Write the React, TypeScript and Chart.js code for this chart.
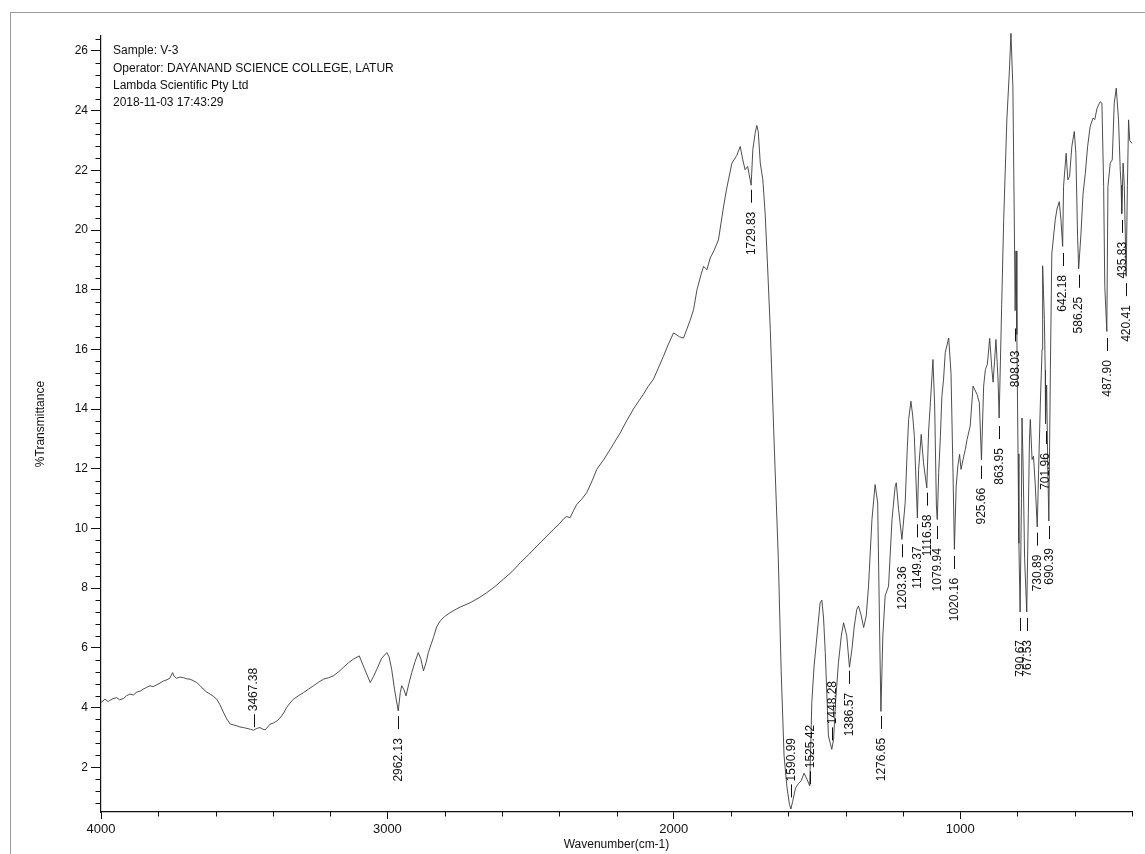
import React, { useEffect, useRef } from 'react';
import { Chart, registerables } from 'chart.js';

Chart.register(...registerables);

// ---- Spectrum data (wavenumber in cm-1, %Transmittance) ----
const wavenumbers = [
  4000, 3986, 3975, 3969, 3958, 3945, 3935, 3922, 3910, 3899, 3887, 3875, 3863, 3852, 3840, 3829, 3818, 3806, 3794, 3782,
  3770, 3760, 3750, 3745, 3736, 3725, 3712, 3700, 3689, 3678, 3666, 3655, 3643, 3631, 3619, 3608, 3596, 3585, 3573, 3561,
  3549, 3538, 3526, 3515, 3503, 3490, 3478, 3467.38, 3456, 3445, 3436, 3427, 3418, 3410, 3398, 3386, 3378, 3369, 3360, 3352,
  3340, 3328, 3310, 3293, 3275, 3258, 3240, 3223, 3205, 3189, 3170, 3154, 3136, 3119, 3098, 3080, 3060, 3048, 3037, 3020,
  3002, 2994, 2985, 2975, 2962.13, 2955, 2950, 2942, 2935, 2925, 2915, 2903, 2892, 2883, 2874, 2865, 2857, 2848, 2839, 2828,
  2816, 2800, 2781, 2750, 2711, 2680, 2653, 2625, 2595, 2565, 2536, 2507, 2478, 2450, 2420, 2400, 2385, 2375, 2362, 2350,
  2339, 2320, 2304, 2285, 2269, 2245, 2222, 2205, 2187, 2165, 2141, 2120, 2106, 2090, 2071, 2055, 2036, 2020, 2001, 1992,
  1980, 1966, 1955, 1943, 1931, 1919, 1905, 1896, 1884, 1873, 1860, 1844, 1826, 1815, 1797, 1780, 1768, 1759, 1751, 1742,
  1729.83, 1724, 1716, 1710, 1705, 1698, 1689, 1681, 1673, 1663, 1650, 1635, 1625, 1615, 1605, 1596, 1590.99, 1585, 1575, 1565,
  1555, 1545, 1535, 1525.42, 1518, 1510, 1500, 1489, 1483, 1477, 1471, 1460, 1448.28, 1442, 1435, 1425, 1415, 1407, 1396, 1386.57,
  1378, 1370, 1361, 1355, 1346, 1337, 1328, 1320, 1308, 1297, 1288, 1281, 1276.65, 1270, 1262, 1250, 1238, 1227, 1223, 1215,
  1203.36, 1192, 1185, 1180, 1172, 1166, 1160, 1149.37, 1145, 1136, 1128, 1116.58, 1110, 1104, 1095, 1089, 1083, 1079.94, 1075, 1069,
  1064, 1058, 1052, 1040, 1032, 1025, 1020.16, 1014, 1008, 1002, 997, 990, 982, 976, 965, 955, 941, 933, 925.66, 918,
  912, 905, 897, 889, 885, 880, 875, 868, 863.95, 855, 848, 837, 828, 822.7, 816, 811, 808.03, 805, 802, 798,
  795, 790.67, 786, 784, 780, 775, 767.53, 762, 758, 755, 749, 744, 738, 730.89, 726, 720, 714, 712, 706, 703,
  701.96, 698, 694, 690.39, 685, 680, 668, 662, 654, 648, 642.18, 639, 630, 624, 618, 610, 601.5, 596, 590, 586.25,
  578, 571, 563, 555, 546, 536, 530, 522, 511, 505, 499, 495, 487.9, 484, 476, 469, 462, 455, 447, 441,
  438, 435.83, 431, 427, 420.41, 416, 412, 408, 400,
];

const transmittance = [
  4.17, 4.28, 4.2, 4.24, 4.3, 4.33, 4.26, 4.3, 4.4, 4.45, 4.42, 4.52, 4.55, 4.62, 4.68, 4.73, 4.7, 4.76, 4.82, 4.89,
  4.93, 4.98, 5.17, 5.05, 4.98, 5.02, 5.0, 4.96, 4.95, 4.9, 4.84, 4.74, 4.62, 4.52, 4.45, 4.38, 4.28, 4.1, 3.85, 3.62,
  3.45, 3.42, 3.39, 3.35, 3.33, 3.3, 3.27, 3.24, 3.3, 3.33, 3.28, 3.25, 3.35, 3.44, 3.48, 3.55, 3.62, 3.72, 3.85, 4.0,
  4.15, 4.28, 4.4, 4.5, 4.62, 4.73, 4.85, 4.95, 5.0, 5.06, 5.2, 5.34, 5.5, 5.62, 5.73, 5.3, 4.84, 5.05, 5.28, 5.65,
  5.84, 5.7, 5.28, 4.6, 3.89, 4.5, 4.73, 4.6, 4.39, 4.8, 5.17, 5.55, 5.84, 5.62, 5.23, 5.5, 5.84, 6.1, 6.35, 6.7,
  6.9, 7.05, 7.18, 7.35, 7.51, 7.68, 7.85, 8.05, 8.3, 8.55, 8.85, 9.12, 9.41, 9.68, 9.97, 10.15, 10.32, 10.4, 10.36, 10.6,
  10.8, 11.0, 11.2, 11.6, 11.98, 12.3, 12.65, 12.92, 13.2, 13.6, 14.0, 14.3, 14.5, 14.75, 15.0, 15.35, 15.77, 16.15, 16.55, 16.5,
  16.42, 16.38, 16.66, 16.97, 17.33, 18.0, 18.5, 18.78, 18.67, 19.06, 19.3, 19.67, 20.8, 21.4, 22.24, 22.5, 22.8, 22.35, 22.02, 22.13,
  21.5, 22.69, 23.24, 23.5, 23.3, 22.24, 21.68, 20.57, 18.9, 16.66, 13.0, 9.0, 5.2, 2.4, 1.35, 0.75, 0.6, 0.85, 1.3, 1.45,
  1.55, 1.8, 1.6, 1.38, 4.17, 5.4, 6.4, 7.51, 7.6, 7.0, 5.84, 3.05, 2.6, 2.94, 4.2, 5.5, 6.4, 6.84, 6.4, 5.35,
  5.95, 6.7, 7.29, 7.4, 7.1, 6.68, 7.07, 8.07, 10.3, 11.47, 10.86, 6.4, 3.87, 6.4, 7.74, 8.07, 10.3, 11.42, 11.53, 10.64,
  9.63, 10.86, 12.6, 13.65, 14.26, 13.8, 13.09, 10.35, 11.98, 13.15, 12.2, 11.36, 13.3, 14.21, 15.66, 14.1, 10.75, 10.3, 11.87, 13.09,
  14.4, 15.0, 15.9, 16.38, 15.2, 11.87, 9.3, 11.42, 12.1, 12.48, 11.98, 12.3, 12.65, 12.98, 13.43, 14.77, 14.49, 14.21, 12.3, 14.77,
  15.32, 15.5, 16.37, 15.3, 14.9, 15.6, 16.33, 15.04, 13.7, 17.5, 20.34, 23.69, 25.36, 26.59, 24.8, 20.34, 17.3, 19.3, 16.5, 12.5,
  9.5, 7.2, 11.0, 13.7, 12.0, 9.0, 7.2, 10.5, 13.0, 13.65, 12.31, 12.42, 11.5, 10.05, 11.98, 14.2, 16.0, 18.8, 17.0, 15.3,
  13.5, 14.8, 12.0, 10.25, 15.32, 19.2, 20.34, 20.7, 20.95, 20.34, 19.45, 21.46, 22.57, 21.68, 21.8, 22.8, 23.3, 22.57, 19.78, 18.7,
  19.9, 21.2, 21.9, 22.8, 23.47, 23.75, 23.7, 24.08, 24.3, 24.25, 21.46, 18.11, 16.6, 21.46, 22.24, 22.35, 24.25, 24.75, 23.69, 22.0,
  21.5, 20.55, 22.24, 21.5, 18.45, 21.5, 23.69, 23.0, 22.9,
];

// ---- Peak annotations ----
const peakWavenumbers = [
  3467.38, 2962.13, 1729.83, 1590.99, 1525.42, 1448.28, 1386.57, 1276.65, 1203.36, 1149.37, 1116.58, 1079.94, 1020.16,
  925.66, 863.95, 808.03, 790.67, 767.53, 730.89, 701.96, 690.39, 642.18, 586.25, 487.9, 435.83, 420.41,
];
// transmittance where each marker dash begins
const peakAnchors = [
  3.34, 3.71, 21.35, 0.99, 1.43, 2.9, 5.23, 3.72, 9.47, 10.14, 11.2, 10.08, 9.08,
  12.1, 13.43, 16.7, 7.0, 7.0, 9.86, 13.26, 10.08, 19.23, 18.5, 16.38, 20.34, 18.22,
];
const peakSides = [
  'above', 'below', 'below', 'above', 'above', 'above', 'below', 'below', 'below', 'below', 'below', 'below', 'below',
  'below', 'below', 'below', 'below', 'below', 'below', 'below', 'below', 'below', 'below', 'below', 'below', 'below',
];
const peakLabels = peakWavenumbers.map((w) => w.toFixed(2));

// ---- Axes ----
const xMin = 400;
const xMax = 4000;
const xMinorStep = 200;
const xMajorValues = [4000, 3000, 2000, 1000];
const xTickLabels = ['4000', '3000', '2000', '1000'];
const yMin = 0.5;
const yMax = 26.5;
const yMinorStep = 0.4;
const yMajorValues = [2, 4, 6, 8, 10, 12, 14, 16, 18, 20, 22, 24, 26];
const yTickLabels = ['2', '4', '6', '8', '10', '12', '14', '16', '18', '20', '22', '24', '26'];

const xTitle = 'Wavenumber(cm-1)';
const yTitle = '%Transmittance';
const infoLines = [
  'Sample: V-3',
  'Operator: DAYANAND SCIENCE COLLEGE, LATUR',
  'Lambda Scientific Pty Ltd',
  '2018-11-03 17:43:29',
];

const FONT = '"Liberation Sans", Arial, Helvetica, sans-serif';

const buildTicks = (min: number, max: number, step: number) => {
  const out: number[] = [];
  const n = Math.round((max - min) / step);
  for (let k = 0; k <= n; k++) out.push(Math.round((min + k * step) * 1000) / 1000);
  return out;
};
const xTickValues = buildTicks(xMin, xMax, xMinorStep);
const yTickValues = buildTicks(0.8, 26.4, yMinorStep);

const majorIndex = (arr: number[], v: number) => arr.findIndex((m) => Math.abs(m - v) < 1e-6);

const minorTicksPlugin = {
  id: 'minorTicks',
  afterDraw(chart: any) {
    const { ctx, chartArea, scales } = chart;
    ctx.save();
    ctx.strokeStyle = '#111';
    ctx.lineWidth = 1;
    ctx.beginPath();
    yTickValues.forEach((v) => {
      if (majorIndex(yMajorValues, v) >= 0) return;
      const py = Math.round(scales.y.getPixelForValue(v)) + 0.5;
      ctx.moveTo(chartArea.left - 5.5, py);
      ctx.lineTo(chartArea.left, py);
    });
    xTickValues.forEach((v) => {
      if (majorIndex(xMajorValues, v) >= 0) return;
      const px = Math.round(scales.x.getPixelForValue(v)) + 0.5;
      ctx.moveTo(px, chartArea.bottom);
      ctx.lineTo(px, chartArea.bottom + 4.5);
    });
    ctx.stroke();
    ctx.restore();
  },
};

const annotationPlugin = {
  id: 'peakAnnotations',
  afterDatasetsDraw(chart: any) {
    const { ctx, chartArea, scales } = chart;
    ctx.save();
    ctx.fillStyle = '#111';
    ctx.strokeStyle = '#111';
    ctx.lineWidth = 1;
    ctx.font = `12px ${FONT}`;
    peakWavenumbers.forEach((w, i) => {
      const px = scales.x.getPixelForValue(w);
      const py = scales.y.getPixelForValue(peakAnchors[i]);
      const dir = peakSides[i] === 'above' ? -1 : 1;
      const dashLen = 13;
      ctx.beginPath();
      ctx.moveTo(Math.round(px) + 0.5, py);
      ctx.lineTo(Math.round(px) + 0.5, py + dir * dashLen);
      ctx.stroke();
      ctx.save();
      const gap = dir > 0 ? 9 : 3;
      ctx.translate(px + 0.5, py + dir * (dashLen + gap));
      ctx.rotate(-Math.PI / 2);
      ctx.textAlign = dir > 0 ? 'right' : 'left';
      ctx.textBaseline = 'middle';
      ctx.fillText(peakLabels[i], 0, 0);
      ctx.restore();
    });
    // header information
    ctx.textAlign = 'left';
    ctx.textBaseline = 'middle';
    infoLines.forEach((line, i) => {
      ctx.fillText(line, chartArea.left + 12, chartArea.top + 15 + i * 17.3);
    });
    ctx.restore();
  },
};

export default function App() {
  const canvasRef = useRef<HTMLCanvasElement | null>(null);

  useEffect(() => {
    if (!canvasRef.current) return;
    Chart.defaults.font.family = FONT;
    const chart = new Chart(canvasRef.current, {
      type: 'line',
      data: {
        datasets: [
          {
            label: 'V-3',
            data: wavenumbers.map((w, i) => ({ x: w, y: transmittance[i] })),
            borderColor: '#3a3a3a',
            borderWidth: 0.9,
            pointRadius: 0,
            fill: false,
            tension: 0,
            clip: 10,
          },
        ],
      },
      options: {
        responsive: false,
        animation: false,
        events: [],
        layout: { padding: { left: 0, right: 13, top: 36, bottom: 0 } },
        plugins: { legend: { display: false }, tooltip: { enabled: false } },
        scales: {
          x: {
            type: 'linear',
            reverse: true,
            min: xMin,
            max: xMax,
            afterBuildTicks: (scale: any) => {
              scale.ticks = xTickValues.map((v) => ({ value: v }));
            },
            afterFit: (scale: any) => {
              scale.height = 42;
            },
            grid: {
              drawOnChartArea: false,
              drawTicks: true,
              tickLength: 7,
              tickWidth: 1,
              tickColor: (c: any) => (majorIndex(xMajorValues, c.tick?.value) >= 0 ? '#111' : 'rgba(0,0,0,0)'),
            },
            border: { display: true, color: '#111', width: 1.2 },
            ticks: {
              autoSkip: false,
              maxRotation: 0,
              padding: 3,
              color: '#111',
              font: { size: 13 },
              callback: (v: any) => {
                const k = majorIndex(xMajorValues, Number(v));
                return k >= 0 ? xTickLabels[k] : '';
              },
            },
            title: {
              display: true,
              text: xTitle,
              color: '#111',
              font: { size: 12 },
              padding: { top: 0, bottom: 2 },
            },
          },
          y: {
            type: 'linear',
            min: yMin,
            max: yMax,
            afterBuildTicks: (scale: any) => {
              scale.ticks = yTickValues.map((v) => ({ value: v }));
            },
            afterFit: (scale: any) => {
              scale.width = 101;
            },
            grid: {
              drawOnChartArea: false,
              drawTicks: true,
              tickLength: 10,
              tickWidth: 1,
              tickColor: (c: any) => (majorIndex(yMajorValues, c.tick?.value) >= 0 ? '#111' : 'rgba(0,0,0,0)'),
            },
            border: { display: true, color: '#111', width: 1.2 },
            ticks: {
              autoSkip: false,
              padding: 3,
              color: '#111',
              font: { size: 12 },
              callback: (v: any) => {
                const k = majorIndex(yMajorValues, Number(v));
                return k >= 0 ? yTickLabels[k] : '';
              },
            },
            title: {
              display: true,
              text: yTitle,
              color: '#111',
              font: { size: 12 },
              padding: { top: 33, bottom: 0 },
            },
          },
        },
      },
      plugins: [minorTicksPlugin, annotationPlugin],
    } as any);
    return () => chart.destroy();
  }, []);

  return (
    <div style={{ position: 'absolute', left: 0, top: 0, width: 1145, height: 854, background: '#fff', overflow: 'hidden' }}>
      <div
        style={{
          position: 'absolute',
          left: 10,
          top: 12,
          right: -2,
          bottom: -2,
          borderTop: '1.5px solid #9a9a9a',
          borderLeft: '1.5px solid #9a9a9a',
        }}
      />
      <canvas ref={canvasRef} width={1145} height={854} style={{ position: 'absolute', left: 0, top: 0 }} />
    </div>
  );
}
